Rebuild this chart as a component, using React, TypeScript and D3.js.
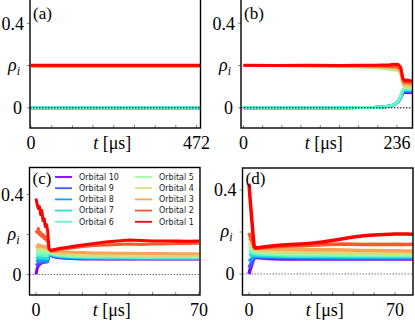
import React from 'react'
import * as d3 from 'd3'

// matplotlib "rainbow" colours, orbital 1 (red) .. orbital 10 (purple)
const orbitalLabels = ['Orbital 1', 'Orbital 2', 'Orbital 3', 'Orbital 4', 'Orbital 5',
  'Orbital 6', 'Orbital 7', 'Orbital 8', 'Orbital 9', 'Orbital 10']
const orbitalColors = ['#ff0000', '#ff572c', '#ffa457', '#d4dd80', '#9cfba4',
  '#63fbc3', '#2adddd', '#0ea4f0', '#4757fb', '#8000ff']

// (a) t in µs, rho per orbital (1..10)
const aTimes = [0, 483]
const aRho = [
  [0.201, 0.201], [0.199, 0.199], [0.198, 0.198], [0.197, 0.197], [0.197, 0.197],
  [0, 0], [0, 0], [0, 0], [0, 0], [0, 0],
]
const aTicks = [0, 59, 118, 177, 236, 295, 354, 413, 472]

// (b)
const bTimes = [0, 50, 100, 150, 180, 200, 215, 225, 232, 238, 242, 245, 248, 252, 256, 260]
const bRho = [
  [0.201, 0.2, 0.201, 0.2, 0.201, 0.202, 0.203, 0.204, 0.206, 0.205, 0.19, 0.14, 0.128, 0.132, 0.127, 0.13],
  [0.2, 0.2, 0.2, 0.199, 0.199, 0.198, 0.197, 0.196, 0.195, 0.192, 0.18, 0.13, 0.12, 0.122, 0.118, 0.12],
  [0.2, 0.2, 0.199, 0.198, 0.197, 0.196, 0.194, 0.192, 0.19, 0.187, 0.17, 0.12, 0.11, 0.112, 0.108, 0.11],
  [0.2, 0.2, 0.199, 0.197, 0.195, 0.193, 0.19, 0.187, 0.184, 0.181, 0.165, 0.115, 0.1, 0.102, 0.099, 0.1],
  [0.2, 0.199, 0.198, 0.196, 0.193, 0.19, 0.186, 0.183, 0.18, 0.175, 0.16, 0.11, 0.095, 0.096, 0.094, 0.095],
  [0, 0, 0, 0, 0.001, 0.002, 0.004, 0.009, 0.017, 0.033, 0.058, 0.085, 0.09, 0.09, 0.088, 0.09],
  [0, 0, 0, 0, 0.001, 0.002, 0.004, 0.009, 0.016, 0.032, 0.056, 0.082, 0.086, 0.087, 0.085, 0.086],
  [0, 0, 0, 0, 0.001, 0.002, 0.004, 0.008, 0.016, 0.031, 0.054, 0.078, 0.082, 0.082, 0.081, 0.082],
  [0, 0, 0, 0, 0.001, 0.002, 0.004, 0.008, 0.015, 0.03, 0.052, 0.074, 0.077, 0.078, 0.076, 0.077],
  [0, 0, 0, 0, 0.001, 0.002, 0.004, 0.008, 0.015, 0.029, 0.05, 0.07, 0.072, 0.073, 0.071, 0.072],
]
const bTicks = [0, 29.5, 59, 88.5, 118, 147.5, 177, 206.5, 236, 265.5]

// (c)
const cTimes = [0, 0.5, 1, 1.5, 2, 2.5, 3, 3.5, 4, 4.5, 5, 5.6, 6.5, 8, 10, 13, 17, 20, 25, 30, 35, 40, 45, 50, 55, 60, 65, 70]
const cRho = [
  [0.38, 0.35, 0.33, 0.34, 0.3, 0.32, 0.27, 0.28, 0.24, 0.25, 0.22, 0.13, 0.12, 0.125, 0.13, 0.135, 0.142, 0.148, 0.155, 0.162, 0.167, 0.172, 0.17, 0.168, 0.167, 0.168, 0.166, 0.167],
  [0.22, 0.21, 0.23, 0.2, 0.21, 0.19, 0.2, 0.18, 0.19, 0.17, 0.17, 0.125, 0.118, 0.12, 0.125, 0.13, 0.135, 0.14, 0.145, 0.148, 0.15, 0.152, 0.15, 0.152, 0.153, 0.155, 0.155, 0.156],
  [0.145, 0.14, 0.15, 0.14, 0.145, 0.14, 0.142, 0.138, 0.14, 0.136, 0.138, 0.125, 0.118, 0.115, 0.113, 0.112, 0.11, 0.11, 0.108, 0.107, 0.106, 0.106, 0.105, 0.105, 0.105, 0.104, 0.104, 0.104],
  [0.13, 0.128, 0.132, 0.127, 0.13, 0.126, 0.128, 0.125, 0.127, 0.124, 0.125, 0.12, 0.113, 0.108, 0.104, 0.101, 0.099, 0.098, 0.097, 0.097, 0.096, 0.096, 0.096, 0.095, 0.095, 0.095, 0.095, 0.095],
  [0.115, 0.113, 0.117, 0.112, 0.115, 0.112, 0.114, 0.111, 0.113, 0.11, 0.112, 0.117, 0.108, 0.103, 0.099, 0.096, 0.094, 0.093, 0.092, 0.092, 0.091, 0.091, 0.091, 0.09, 0.09, 0.09, 0.09, 0.09],
  [0.1, 0.098, 0.102, 0.097, 0.1, 0.097, 0.099, 0.096, 0.098, 0.095, 0.097, 0.115, 0.104, 0.099, 0.095, 0.092, 0.09, 0.089, 0.088, 0.087, 0.087, 0.087, 0.086, 0.086, 0.086, 0.086, 0.086, 0.086],
  [0.085, 0.083, 0.087, 0.082, 0.085, 0.082, 0.084, 0.081, 0.083, 0.08, 0.082, 0.112, 0.1, 0.096, 0.092, 0.089, 0.087, 0.086, 0.085, 0.084, 0.084, 0.084, 0.083, 0.083, 0.083, 0.083, 0.083, 0.083],
  [0.07, 0.068, 0.072, 0.068, 0.07, 0.068, 0.07, 0.068, 0.07, 0.068, 0.07, 0.11, 0.097, 0.093, 0.089, 0.086, 0.084, 0.083, 0.082, 0.081, 0.081, 0.081, 0.081, 0.081, 0.081, 0.081, 0.081, 0.081],
  [0.045, 0.05, 0.055, 0.057, 0.06, 0.06, 0.062, 0.061, 0.063, 0.062, 0.064, 0.108, 0.095, 0.09, 0.086, 0.083, 0.081, 0.08, 0.08, 0.079, 0.079, 0.079, 0.079, 0.079, 0.079, 0.079, 0.079, 0.079],
  [0, 0.03, 0.045, 0.05, 0.055, 0.058, 0.06, 0.062, 0.063, 0.065, 0.066, 0.105, 0.093, 0.088, 0.084, 0.081, 0.079, 0.078, 0.078, 0.077, 0.077, 0.077, 0.077, 0.077, 0.077, 0.077, 0.077, 0.077],
]
const cTicks = [0, 10, 20, 30, 40, 50, 60, 70]

// (d)
const dTimes = [0, 0.5, 1, 1.5, 2, 2.5, 3, 5, 8, 12, 16, 20, 25, 30, 35, 40, 45, 50, 55, 60, 65, 70, 75, 79]
const dRho = [
  [0.43, 0.36, 0.3, 0.24, 0.18, 0.13, 0.124, 0.126, 0.13, 0.135, 0.138, 0.14, 0.143, 0.147, 0.152, 0.16, 0.168, 0.176, 0.182, 0.186, 0.188, 0.19, 0.19, 0.189],
  [0.195, 0.18, 0.17, 0.16, 0.145, 0.128, 0.122, 0.124, 0.127, 0.13, 0.132, 0.133, 0.135, 0.137, 0.139, 0.142, 0.143, 0.142, 0.141, 0.142, 0.141, 0.142, 0.141, 0.142],
  [0.17, 0.165, 0.16, 0.15, 0.14, 0.125, 0.12, 0.12, 0.12, 0.119, 0.118, 0.118, 0.117, 0.116, 0.116, 0.115, 0.114, 0.113, 0.112, 0.112, 0.111, 0.111, 0.11, 0.11],
  [0.15, 0.145, 0.14, 0.135, 0.128, 0.118, 0.112, 0.11, 0.108, 0.106, 0.105, 0.104, 0.103, 0.102, 0.102, 0.101, 0.1, 0.1, 0.1, 0.1, 0.099, 0.099, 0.099, 0.099],
  [0.13, 0.127, 0.124, 0.12, 0.115, 0.11, 0.106, 0.104, 0.102, 0.1, 0.099, 0.098, 0.097, 0.096, 0.096, 0.095, 0.095, 0.094, 0.094, 0.094, 0.093, 0.093, 0.093, 0.093],
  [0.11, 0.108, 0.106, 0.104, 0.102, 0.1, 0.098, 0.096, 0.094, 0.093, 0.092, 0.091, 0.091, 0.09, 0.09, 0.089, 0.089, 0.089, 0.088, 0.088, 0.088, 0.088, 0.088, 0.088],
  [0.09, 0.09, 0.09, 0.09, 0.09, 0.09, 0.09, 0.089, 0.088, 0.087, 0.086, 0.085, 0.085, 0.084, 0.084, 0.084, 0.083, 0.083, 0.083, 0.083, 0.083, 0.083, 0.083, 0.083],
  [0.06, 0.065, 0.07, 0.075, 0.08, 0.085, 0.086, 0.085, 0.083, 0.082, 0.081, 0.081, 0.08, 0.08, 0.079, 0.079, 0.079, 0.079, 0.079, 0.079, 0.079, 0.079, 0.079, 0.079],
  [0.03, 0.04, 0.05, 0.06, 0.07, 0.08, 0.083, 0.081, 0.079, 0.078, 0.077, 0.077, 0.076, 0.076, 0.075, 0.075, 0.075, 0.075, 0.075, 0.075, 0.075, 0.075, 0.075, 0.075],
  [0, 0.02, 0.035, 0.05, 0.065, 0.078, 0.08, 0.077, 0.075, 0.073, 0.072, 0.072, 0.071, 0.071, 0.071, 0.071, 0.071, 0.071, 0.071, 0.071, 0.071, 0.071, 0.071, 0.071],
]
const dTicks = [0, 10, 20, 30, 40, 50, 60, 70]

const yTicks = [0, 0.2, 0.4]

type PanelSpec = {
  id: string
  times: number[]
  rho: number[][]
  ticks: number[]
  tEnd: number
  // layout
  x0: number; x1: number // px of t=0 and t=tEnd
  left: number; right: number; top: number; bottom: number
  yZero: number; yFour: number // px of rho=0 and rho=0.4
  lw: number
  zeroColor: string
}

const SERIF = 'Liberation Serif'

const panels: PanelSpec[] = [
  { id: 'a', times: aTimes, rho: aRho, ticks: aTicks, tEnd: 472,
    x0: 31, x1: 196.5, left: 30, right: 200.5, top: -4, bottom: 128,
    yZero: 107.8, yFour: 23.3, lw: 3, zeroColor: '#000' },
  { id: 'b', times: bTimes, rho: bRho, ticks: bTicks, tEnd: 236,
    x0: 243.5, x1: 397, left: 241, right: 412.5, top: -4, bottom: 128,
    yZero: 107.8, yFour: 23.3, lw: 3, zeroColor: '#000' },
  { id: 'c', times: cTimes, rho: cRho, ticks: cTicks, tEnd: 70,
    x0: 36, x1: 199, left: 29.5, right: 200, top: 167.5, bottom: 295,
    yZero: 274.5, yFour: 194.5, lw: 3, zeroColor: '#777' },
  { id: 'd', times: dTimes, rho: dRho, ticks: dTicks, tEnd: 70,
    x0: 249, x1: 395, left: 242.5, right: 413, top: 168, bottom: 295,
    yZero: 274, yFour: 190, lw: 3.5, zeroColor: '#777' },
]

function T(props: any) {
  return <text fontFamily={SERIF} fontSize={18} fill="#000" {...props} />
}

function Panel({ p }: { p: PanelSpec }) {
  const x = d3.scaleLinear().domain([0, p.tEnd]).range([p.x0, p.x1])
  const y = d3.scaleLinear().domain([0, 0.4]).range([p.yZero, p.yFour])
  const line = d3.line<number>().x((_, i) => x(p.times[i])).y(d => y(d))
  const order = d3.range(p.rho.length).reverse() // orbital 10 first, orbital 1 on top
  const clipId = `clip-${p.id}`
  const midX = (p.left + p.right) / 2 - 3
  const labelBase = p.bottom + 21

  return (
    <g>
      <defs>
        <clipPath id={clipId}>
          <rect x={p.left} y={p.top} width={p.right - p.left} height={p.bottom - p.top} />
        </clipPath>
      </defs>
      <g clipPath={`url(#${clipId})`}>
        {order.map(k => (
          <path key={k} d={line(p.rho[k]) || ''} fill="none" stroke={orbitalColors[k]}
            strokeWidth={p.lw} strokeLinejoin="round" />
        ))}
        <line x1={p.left} x2={p.right} y1={y(0)} y2={y(0)} stroke={p.zeroColor}
          strokeWidth={1} strokeDasharray="1.5,1.5" />
      </g>
      {p.ticks.map(t => (
        <line key={t} x1={x(t)} x2={x(t)} y1={p.bottom} y2={p.bottom - 3} stroke="#666" strokeWidth={0.8} />
      ))}
      {yTicks.map(v => (
        <line key={v} x1={p.left} x2={p.left - 3} y1={y(v)} y2={y(v)} stroke="#666" strokeWidth={0.8} />
      ))}
      <rect x={p.left} y={p.top} width={p.right - p.left} height={p.bottom - p.top}
        fill="none" stroke="#000" strokeWidth={1.4} />
      <T x={p.left - 6} y={y(0.4)} dy="0.35em" textAnchor="end">0.4</T>
      <T x={p.left - 8} y={y(0)} dy="0.35em" textAnchor="end">0</T>
      <T x={p.left - 10} y={y(0.2)} dy="0.3em" textAnchor="end">
        <tspan fontStyle="italic">ρ</tspan>
        <tspan fontStyle="italic" fontSize={12} dy="4">i</tspan>
      </T>
      <T x={x(0)} y={labelBase} textAnchor="middle">0</T>
      <T x={x(p.tEnd)} y={labelBase} textAnchor="middle">{p.tEnd}</T>
      <T x={midX} y={labelBase} textAnchor="middle">
        <tspan fontStyle="italic">t</tspan> [μs]
      </T>
      <T x={p.left + 3} y={p.top + (p.id === 'a' || p.id === 'b' ? 23 : 16)} fontSize={17}>({p.id})</T>
    </g>
  )
}

function Legend() {
  const rows = 5
  return (
    <g>
      {[9, 8, 7, 6, 5, 4, 3, 2, 1, 0].map((k, j) => {
        const col = Math.floor(j / rows)
        const row = j % rows
        const lx = col === 0 ? 55 : 135
        const ly = 177 + row * 11.2
        return (
          <g key={k}>
            <line x1={lx} x2={lx + 17} y1={ly} y2={ly} stroke={orbitalColors[k]} strokeWidth={1.8} />
            <text x={lx + 24} y={ly} dy="0.35em" fontFamily="DejaVu Sans" fontSize={8} fill="#222">
              {orbitalLabels[k]}
            </text>
          </g>
        )
      })}
    </g>
  )
}

export default function App() {
  return (
    <svg width={415} height={321} viewBox="0 0 415 321"
      style={{ position: 'absolute', left: 0, top: 0, background: '#fff' }}>
      {panels.map(p => <Panel key={p.id} p={p} />)}
      <Legend />
    </svg>
  )
}
